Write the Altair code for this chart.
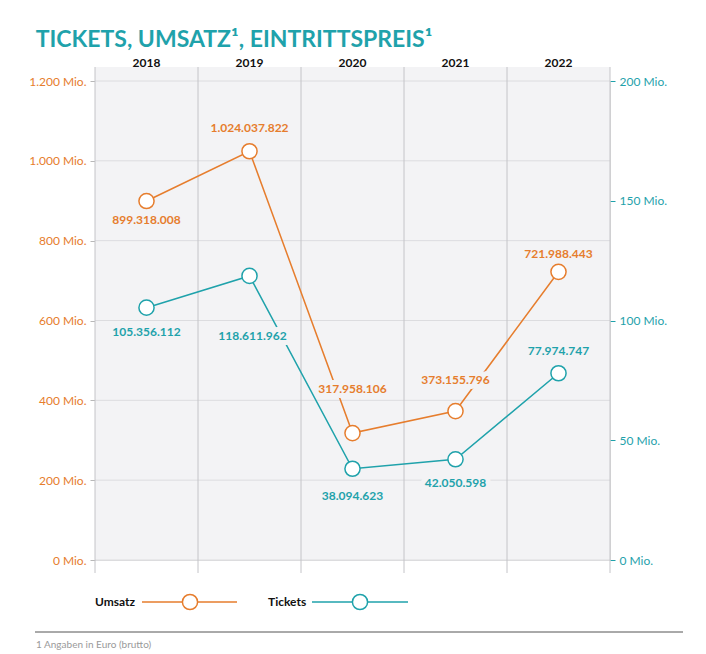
import altair as alt
import pandas as pd

# ---- data ----
years = ["2018", "2019", "2020", "2021", "2022"]
umsatz = [899318008, 1024037822, 317958106, 373155796, 721988443]
tickets = [105356112, 118611962, 38094623, 42050598, 77974747]
umsatz_ticks = [0, 200e6, 400e6, 600e6, 800e6, 1000e6, 1200e6]
tickets_ticks = [0, 50e6, 100e6, 150e6, 200e6]
series_names = ["Umsatz", "Tickets"]
footnote = "1 Angaben in Euro (brutto)"
title_text = "TICKETS, UMSATZ¹, EINTRITTSPREIS¹"

# label offsets (styling, px)
umsatz_dy = [19, -23, -44, -31, -18]
tickets_dy = [24, 60, 27, 24, -22]
tickets_dx = [0, 3, 0, 0, 0]

ORANGE = "#e67d2d"
TEAL = "#1fa2ab"
BG = "#f3f3f5"
FONT = "Lato"
W, H = 515, 479


def de(v):
    return f"{v:,}".replace(",", ".")


df = pd.DataFrame({
    "year": years,
    "umsatz": umsatz,
    "tickets": tickets,
    "u_label": [de(v) for v in umsatz],
    "t_label": [de(v) for v in tickets],
})

xscale = alt.Scale(type="band", paddingInner=0, paddingOuter=0)
xaxis = alt.Axis(orient="top", ticks=False, domain=False, grid=False,
                 labelFont=FONT, labelFontWeight="bold", labelFontSize=12,
                 labelColor="#111", labelPadding=12, labelAngle=0, title=None)
X = alt.X("year:O", scale=xscale, axis=xaxis, sort=years)

base = alt.Chart(df)
one = alt.Data(values=[{"k": 1}])

uy_axis = alt.Axis(orient="left", values=umsatz_ticks,
                   labelExpr="replace(format(datum.value/1000000, ','), ',', '.') + ' Mio.'",
                   labelColor=ORANGE, labelFont=FONT, labelFontSize=12,
                   tickColor="#b8b8b8", tickSize=5, domain=False, grid=False,
                   labelPadding=4, title=None)
ty_axis = alt.Axis(orient="right", values=tickets_ticks,
                   labelExpr="format(datum.value/1000000, ',') + ' Mio.'",
                   labelColor=TEAL, labelFont=FONT, labelFontSize=12,
                   tickColor=TEAL, tickSize=5, domain=False, grid=False,
                   labelPadding=4, title=None)

uscale = alt.Scale(domain=[0, 1.2e9], nice=False)
tscale = alt.Scale(domain=[0, 2e8], nice=False)
UY = alt.Y("umsatz:Q", scale=uscale, axis=uy_axis)
TY = alt.Y("tickets:Q", scale=tscale, axis=ty_axis)

# background panel (plot area plus the strip above it)
panel = alt.Chart(one).mark_rect(fill=BG).encode(
    x=alt.value(0), x2=alt.value(W), y=alt.value(-14), y2=alt.value(H)
)

# horizontal grid lines at the Umsatz tick values
grid = alt.Chart(pd.DataFrame({"umsatz": umsatz_ticks})).mark_rule(
    color="#dcdcdf", strokeWidth=1).encode(
    y=alt.Y("umsatz:Q", scale=uscale, axis=uy_axis), x=alt.value(0), x2=alt.value(W))

dividers = base.mark_rule(color="#c4c4c8", strokeWidth=1).encode(
    x=alt.X("year:O", scale=xscale, axis=xaxis, sort=years, bandPosition=0),
    y=alt.value(-14), y2=alt.value(H + 13),
)
last_div = alt.Chart(one).mark_rule(color="#c4c4c8", strokeWidth=1).encode(
    x=alt.value(W), y=alt.value(-14), y2=alt.value(H + 13)
)


def labels(Y, label_field, color, dys, dxs, halo):
    out = []
    for yr, dy, dx in zip(years, dys, dxs):
        if halo:
            m = base.mark_text(font=FONT, fontWeight="bold", fontSize=12, fill=BG,
                               stroke=BG, strokeWidth=10, strokeJoin="round", dy=dy, dx=dx)
        else:
            m = base.mark_text(font=FONT, fontWeight="bold", fontSize=12, fill=color,
                               dy=dy, dx=dx)
        out.append(m.encode(x=X, y=Y, text=f"{label_field}:N")
                   .transform_filter(alt.datum.year == yr))
    return out


u_line = base.mark_line(color=ORANGE, strokeWidth=1.5).encode(x=X, y=UY)
u_pts = base.mark_point(shape="circle", filled=True, fill="white", stroke=ORANGE,
                        strokeWidth=1.5, size=230, opacity=1).encode(x=X, y=UY)
t_line = base.mark_line(color=TEAL, strokeWidth=1.5).encode(x=X, y=TY)
t_pts = base.mark_point(shape="circle", filled=True, fill="white", stroke=TEAL,
                        strokeWidth=1.5, size=230, opacity=1).encode(x=X, y=TY)

u_zero = [0] * len(years)
left = alt.layer(panel, grid, dividers, last_div, u_line,
                 *labels(UY, "u_label", ORANGE, umsatz_dy, u_zero, True),
                 u_pts,
                 *labels(UY, "u_label", ORANGE, umsatz_dy, u_zero, False))
right = alt.layer(t_line,
                  *labels(TY, "t_label", TEAL, tickets_dy, tickets_dx, True),
                  t_pts,
                  *labels(TY, "t_label", TEAL, tickets_dy, tickets_dx, False))

# ---- legend & footer (decoration) ----
LY = H + 42
leg = []
for name, col, tx, lx1, lx2, cx in [
    (series_names[0], ORANGE, 0, 47, 142, 95),
    (series_names[1], TEAL, 173, 217, 313, 265),
]:
    leg.append(alt.Chart(one).mark_text(font=FONT, fontWeight="bold", fontSize=12,
                                        color="#111", align="left", baseline="middle",
                                        text=name).encode(x=alt.value(tx), y=alt.value(LY)))
    leg.append(alt.Chart(one).mark_rule(color=col, strokeWidth=1.5).encode(
        x=alt.value(lx1), x2=alt.value(lx2), y=alt.value(LY)))
    leg.append(alt.Chart(one).mark_point(shape="circle", filled=True, fill="white",
                                         stroke=col, strokeWidth=1.5, size=230, opacity=1).encode(
        x=alt.value(cx), y=alt.value(LY)))

foot_rule = alt.Chart(one).mark_rule(color="#555", strokeWidth=1).encode(
    x=alt.value(-60), x2=alt.value(588), y=alt.value(H + 72))
foot_text = alt.Chart(one).mark_text(font=FONT, fontSize=10, color="#9a9a9a",
                                     align="left", baseline="middle", text=footnote).encode(
    x=alt.value(-59), y=alt.value(H + 85))

decor = alt.layer(*leg, foot_rule, foot_text)

chart = alt.layer(left, right, decor).resolve_scale(y="independent").properties(
    width=W, height=H,
    padding={"left": 20, "top": 21, "right": 5, "bottom": 5},
    title=alt.TitleParams(title_text, anchor="start", frame="bounds", font=FONT,
                          fontSize=23, fontWeight="bold", color=TEAL, offset=4, dx=7),
).configure_view(stroke=None).configure(background="white")

chart.save("out.html", embed_options={"renderer": "svg", "actions": False})
